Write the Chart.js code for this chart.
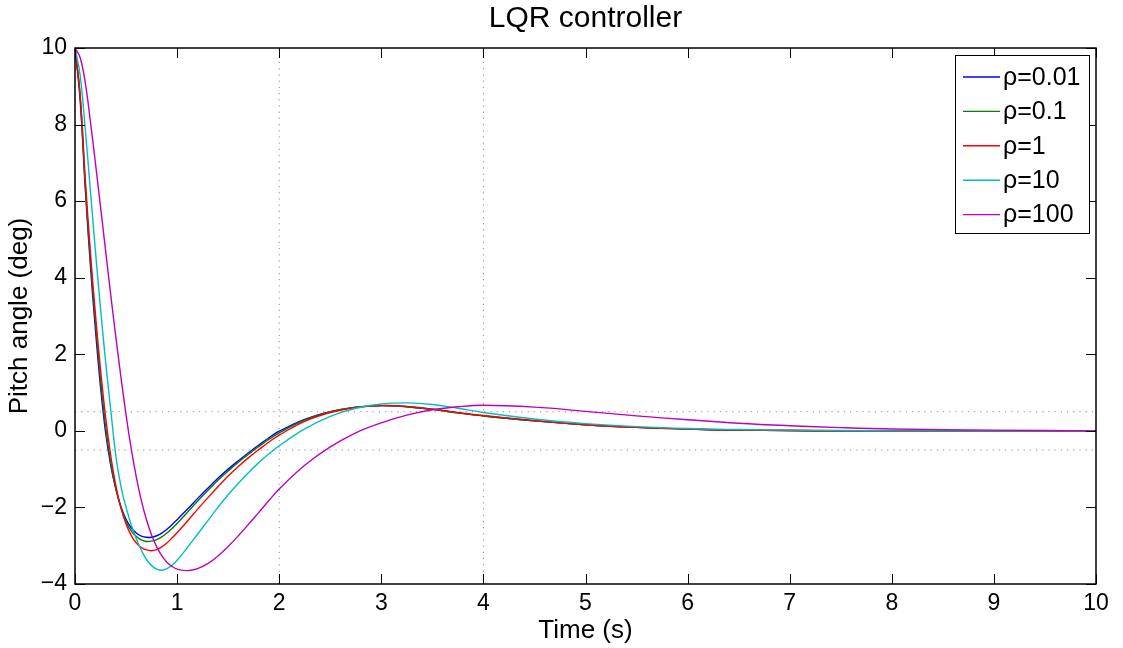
<!DOCTYPE html>
<html>
<head>
<meta charset="utf-8">
<title>LQR controller</title>
<script src="https://cdn.jsdelivr.net/npm/chart.js@4.4.0/dist/chart.umd.min.js"></script>
<style>
  html, body { margin: 0; padding: 0; background: #fff; }
  #wrap { width: 1123px; height: 648px; }
</style>
</head>
<body>
<div id="wrap"><canvas id="chart" width="1123" height="648"></canvas></div>
<script>
const FONT = '"Liberation Sans", Arial, Helvetica, sans-serif';
const TITLE = 'LQR controller';
const X_LABEL = 'Time (s)';
const Y_LABEL = 'Pitch angle (deg)';

// time samples (s), shared by all five responses
const T = [0, 0.05, 0.1, 0.15, 0.2, 0.25, 0.3, 0.35, 0.4, 0.45, 0.5, 0.55, 0.6, 0.65, 0.7, 0.75,
  0.8, 0.85, 0.9, 0.95, 1.0, 1.1, 1.2, 1.3, 1.4, 1.5, 1.6, 1.7, 1.8, 1.9, 2.0, 2.25, 2.5, 2.75,
  3.0, 3.25, 3.5, 3.75, 4.0, 4.5, 5.0, 5.5, 6.0, 6.5, 7.0, 7.5, 8.0, 9.0, 10.0];

// pitch angle (deg), one array per rho
const RHO_001 = [10, 8.65, 6.35, 4.35, 2.65, 1.15, -0.05, -0.9, -1.52, -1.98, -2.31, -2.53, -2.67, -2.75, -2.78, -2.78,
  -2.74, -2.67, -2.57, -2.45, -2.32, -2.05, -1.77, -1.5, -1.24, -1.0, -0.78, -0.57, -0.37, -0.18, -0.01, 0.3, 0.5, 0.62,
  0.66, 0.63, 0.56, 0.47, 0.39, 0.26, 0.16, 0.09, 0.045, 0.02, 0.01, 0, 0, 0, 0];
const RHO_01 = [10, 8.75, 6.46, 4.51, 2.85, 1.35, 0.1, -0.83, -1.51, -2.01, -2.37, -2.61, -2.76, -2.85, -2.89, -2.88,
  -2.84, -2.77, -2.67, -2.55, -2.42, -2.13, -1.84, -1.56, -1.29, -1.05, -0.82, -0.61, -0.41, -0.22, -0.05, 0.28, 0.5, 0.62,
  0.66, 0.63, 0.56, 0.47, 0.39, 0.26, 0.16, 0.09, 0.045, 0.02, 0.01, 0, 0, 0, 0];
const RHO_1 = [10, 8.8, 6.6, 4.7, 3.05, 1.6, 0.35, -0.65, -1.43, -2.01, -2.43, -2.73, -2.93, -3.05, -3.11, -3.13,
  -3.1, -3.03, -2.93, -2.8, -2.66, -2.36, -2.05, -1.75, -1.46, -1.18, -0.93, -0.7, -0.49, -0.29, -0.11, 0.25, 0.48, 0.61,
  0.66, 0.64, 0.57, 0.48, 0.4, 0.27, 0.16, 0.09, 0.045, 0.02, 0.01, 0, 0, 0, 0];
const RHO_10 = [10, 9.3, 7.9, 6.3, 4.7, 3.2, 1.8, 0.55, -0.65, -1.45, -2.0, -2.45, -2.82, -3.12, -3.36, -3.52,
  -3.61, -3.64, -3.6, -3.51, -3.38, -3.05, -2.7, -2.35, -2.0, -1.67, -1.37, -1.09, -0.83, -0.6, -0.39, 0.05, 0.38, 0.59,
  0.7, 0.73, 0.69, 0.59, 0.48, 0.31, 0.19, 0.11, 0.06, 0.035, 0.02, 0.01, 0, 0, 0];
const RHO_100 = [10, 9.75, 9.1, 8.1, 7.0, 5.85, 4.7, 3.55, 2.45, 1.4, 0.42, -0.45, -1.2, -1.82, -2.32, -2.72,
  -3.03, -3.26, -3.43, -3.54, -3.61, -3.65, -3.6, -3.47, -3.27, -3.02, -2.74, -2.44, -2.13, -1.82, -1.52, -0.9, -0.42, -0.05,
  0.21, 0.41, 0.55, 0.63, 0.67, 0.62, 0.51, 0.39, 0.29, 0.2, 0.135, 0.085, 0.05, 0.02, 0];

const SERIES_LABELS = ['ρ=0.01', 'ρ=0.1', 'ρ=1', 'ρ=10', 'ρ=100'];
const SERIES_COLORS = ['#0000ff', '#008000', '#ff0000', '#00bfbf', '#bf00bf'];
const SERIES_DATA = [RHO_001, RHO_01, RHO_1, RHO_10, RHO_100];

// dotted reference marks: +/- 0.5 deg band and two time markers
const BAND = [0.5, -0.5];
const MARK_TIMES = [2, 4];

const X_TICKS = [0, 1, 2, 3, 4, 5, 6, 7, 8, 9, 10];
const Y_TICKS = [-4, -2, 0, 2, 4, 6, 8, 10];

const TICK_LEN = 10;

const datasets = SERIES_DATA.map((vals, i) => ({
  label: SERIES_LABELS[i],
  data: T.map((t, k) => ({ x: t, y: vals[k] })),
  borderColor: SERIES_COLORS[i],
  borderWidth: 1.4,
  pointRadius: 0,
  tension: 0.4,
  order: SERIES_DATA.length - i,   // later series drawn on top, like matlab
  inLegend: true
}));

const refStyle = { borderColor: '#8c8c8c', borderWidth: 1, borderDash: [1.2, 5], pointRadius: 0, order: 20, inLegend: false };
BAND.forEach(v => datasets.push({ ...refStyle, label: 'band', data: [{ x: 0, y: v }, { x: 10, y: v }] }));
MARK_TIMES.forEach(t => datasets.push({ ...refStyle, label: 'mark', data: [{ x: t, y: -4 }, { x: t, y: 10 }] }));

// axes box + inward ticks on all four sides, title on top
const frameTicks = {
  id: 'frameTicks',
  afterDatasetsDraw(chart) {
    const { ctx, chartArea: a, scales: { x, y } } = chart;
    ctx.save();
    ctx.strokeStyle = '#000';
    ctx.lineWidth = 1;
    ctx.beginPath();
    X_TICKS.forEach(v => {
      const px = Math.round(x.getPixelForValue(v)) + 0.5;
      ctx.moveTo(px, a.bottom); ctx.lineTo(px, a.bottom - TICK_LEN);
      ctx.moveTo(px, a.top); ctx.lineTo(px, a.top + TICK_LEN);
    });
    Y_TICKS.forEach(v => {
      const py = Math.round(y.getPixelForValue(v)) + 0.5;
      ctx.moveTo(a.left, py); ctx.lineTo(a.left + TICK_LEN, py);
      ctx.moveTo(a.right, py); ctx.lineTo(a.right - TICK_LEN, py);
    });
    ctx.stroke();
    ctx.lineWidth = 1.5;
    ctx.strokeRect(a.left, a.top, a.right - a.left, a.bottom - a.top);

    ctx.fillStyle = '#000';
    ctx.font = '30px ' + FONT;
    ctx.textAlign = 'center';
    ctx.textBaseline = 'alphabetic';
    ctx.fillText(TITLE, (a.left + a.right) / 2, 27);
    ctx.restore();
  }
};

// matlab style legend box in the top right corner
const boxLegend = {
  id: 'boxLegend',
  afterDraw(chart) {
    const { ctx, chartArea: a } = chart;
    const items = chart.data.datasets.filter(d => d.inLegend);
    const w = 134, rowH = 34.4, h = 178;
    const left = a.right - 7 - w, top = a.top + 7;
    ctx.save();
    ctx.fillStyle = '#fff';
    ctx.fillRect(left, top, w, h);
    ctx.strokeStyle = '#000';
    ctx.lineWidth = 1;
    ctx.strokeRect(left + 0.5, top + 0.5, w, h);
    ctx.font = '25px ' + FONT;
    ctx.textAlign = 'left';
    ctx.textBaseline = 'middle';
    items.forEach((d, i) => {
      const cy = top + 22 + i * rowH;
      ctx.strokeStyle = d.borderColor;
      ctx.lineWidth = 1.4;
      ctx.beginPath();
      ctx.moveTo(left + 8, cy); ctx.lineTo(left + 45, cy);
      ctx.stroke();
      ctx.fillStyle = '#000';
      ctx.fillText(d.label, left + 48, cy + 1);
    });
    ctx.restore();
  }
};

const minus = v => String(v).replace('-', '\u2212');

new Chart(document.getElementById('chart'), {
  type: 'line',
  data: { datasets },
  options: {
    responsive: false,
    animation: false,
    devicePixelRatio: 1,
    layout: { padding: { top: 48, right: 27, left: 0, bottom: 0 } },
    plugins: { legend: { display: false }, tooltip: { enabled: false } },
    scales: {
      x: {
        type: 'linear', min: 0, max: 10,
        afterFit(s) { s.height = 64; },
        afterBuildTicks(s) { s.ticks = X_TICKS.map(v => ({ value: v })); },
        grid: { display: false, drawTicks: false },
        border: { display: false },
        ticks: { color: '#000', padding: 6, font: { family: FONT, size: 23 }, callback: minus, maxRotation: 0 },
        title: { display: true, text: X_LABEL, color: '#000', font: { family: FONT, size: 26 }, padding: { top: 0, bottom: 2 } }
      },
      y: {
        type: 'linear', min: -4, max: 10,
        afterFit(s) { s.width = 75; },
        afterBuildTicks(s) { s.ticks = Y_TICKS.map(v => ({ value: v })); },
        grid: { display: false, drawTicks: false },
        border: { display: false },
        ticks: { color: '#000', padding: 8, font: { family: FONT, size: 23 }, callback: minus },
        title: { display: true, text: Y_LABEL, color: '#000', font: { family: FONT, size: 26 }, padding: { top: 4, bottom: 0 } }
      }
    }
  },
  plugins: [frameTicks, boxLegend]
});
</script>
</body>
</html>
